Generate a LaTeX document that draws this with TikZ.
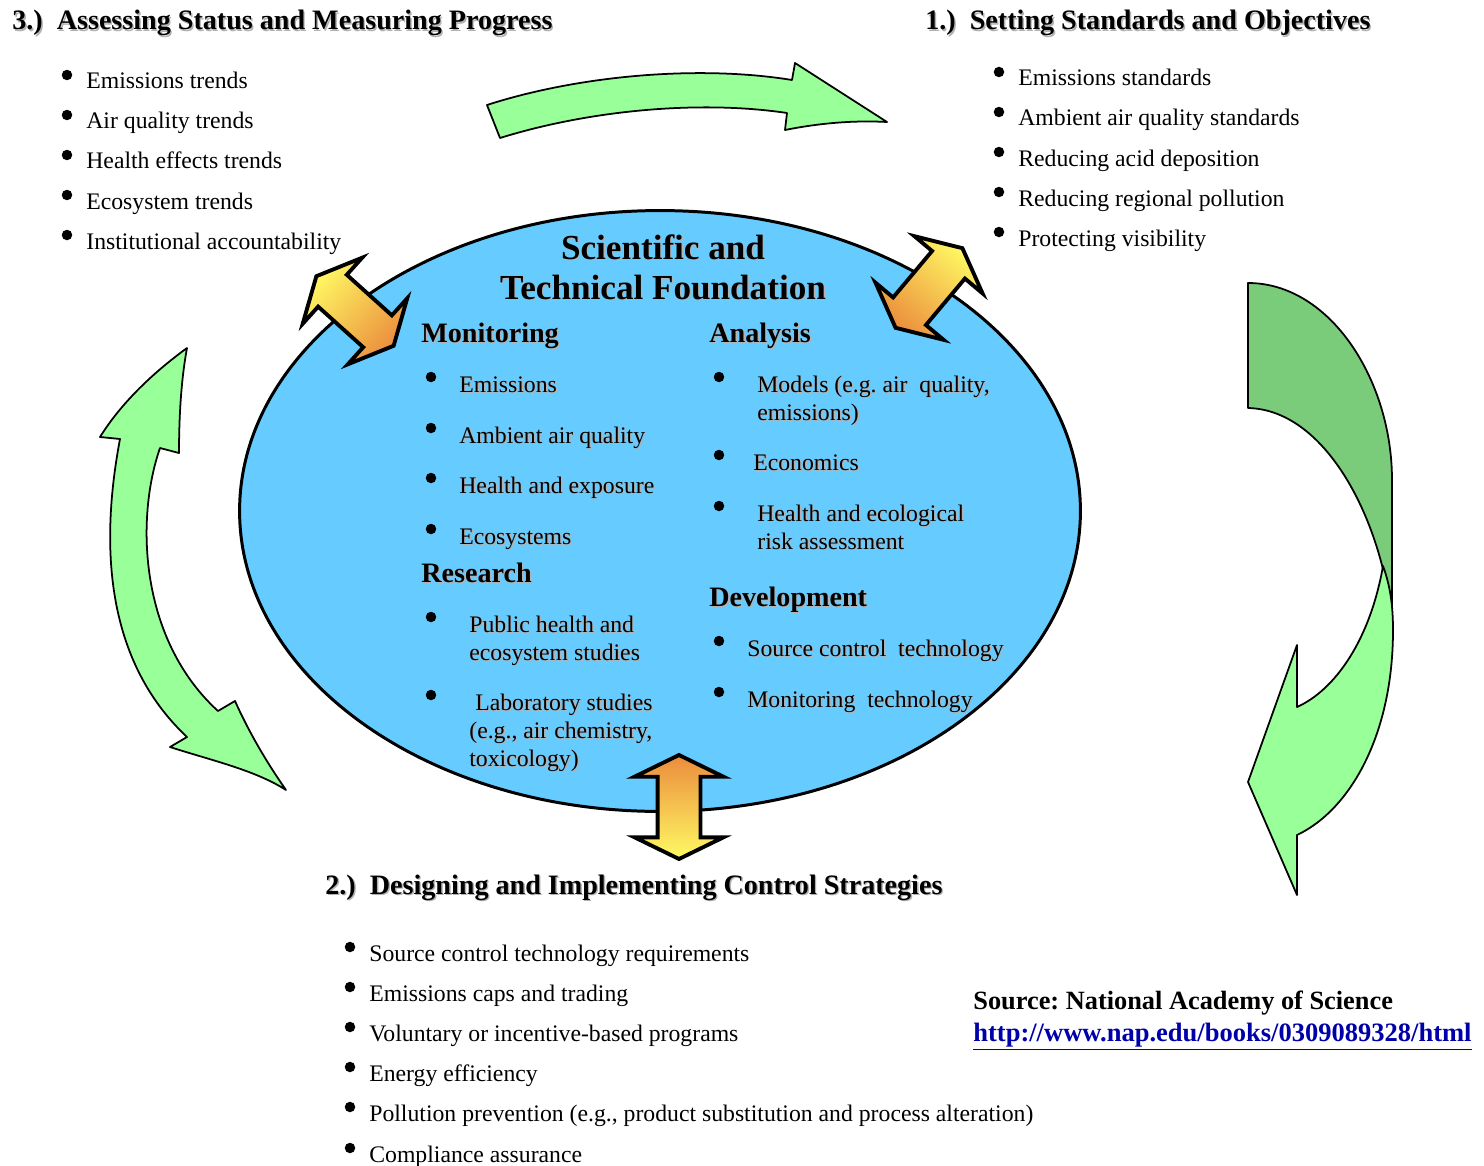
\documentclass[tikz,border=0pt]{standalone}
\usepackage{fontspec}
\setmainfont{Liberation Serif}
\usetikzlibrary{shapes.arrows}
\frenchspacing

\definecolor{skyfill}{RGB}{102,204,255}
\definecolor{leafgreen}{RGB}{153,255,153}
\definecolor{darkleaf}{RGB}{122,204,122}
\definecolor{arrowyellow}{RGB}{255,250,100}
\definecolor{arroworange}{RGB}{235,140,60}
\definecolor{linkblue}{RGB}{0,0,170}

\newcommand{\shd}[1]{\leavevmode\rlap{\kern0.8pt\raisebox{-0.8pt}{\textcolor{black!30}{#1}}}#1}
\newcommand{\mlines}[1]{\begin{tabular}[t]{@{}l@{}}#1\end{tabular}}

\begin{document}
\begin{tikzpicture}[x=0.02cm,y=-0.02cm,
    txt/.style={anchor=base west,inner sep=0pt,font=\fontsize{13.5}{16}\selectfont},
    head/.style={anchor=base west,inner sep=0pt,font=\fontsize{16}{19}\selectfont\bfseries},
    title/.style={anchor=base,inner sep=0pt,font=\fontsize{20}{24}\selectfont\bfseries},
    dot/.style={circle,fill=black,inner sep=0pt,minimum size=0.21cm},
    flow/.style={draw=black,line width=1pt,fill=leafgreen,line join=round},
    link/.style={double arrow,draw=black,line width=2.2pt,inner xsep=0pt,inner ysep=0.39cm,outer sep=0pt,
                 minimum height=2.08cm,double arrow head extend=0.46cm,double arrow tip angle=128,
                 top color=arrowyellow,bottom color=arroworange}]
  \useasboundingbox (0,0) rectangle (1484,1166);

  % green arrows of the cycle
  \draw[flow] (487,105) .. controls (580,75) and (700,65) .. (792,80) -- (795,63) -- (887,122)
    .. controls (850,120) and (815,124) .. (785,130) -- (787,113)
    .. controls (700,100) and (590,110) .. (500,138) -- cycle;
  \draw[flow] (187,348) .. controls (150,375) and (120,405) .. (100,437) -- (120,439)
    .. controls (100,545) and (105,660) .. (187,737) -- (170,747)
    .. controls (210,760) and (255,770) .. (286,790)
    .. controls (265,760) and (248,730) .. (235,701) -- (218,711)
    .. controls (140,640) and (135,520) .. (160,448) -- (179,453)
    .. controls (179,410) and (182,375) .. (187,348) -- cycle;
  \draw[flow,fill=darkleaf] (1248,283) .. controls (1330,283) and (1392,380) .. (1392,480) -- (1392,625)
    .. controls (1385,530) and (1330,410) .. (1248,408) -- cycle;
  \draw[flow] (1383,566) .. controls (1390,585) and (1393,605) .. (1393,630)
    .. controls (1393,735) and (1350,810) .. (1297,835) -- (1297,895) -- (1248,782) -- (1297,645) -- (1297,707)
    .. controls (1335,690) and (1370,640) .. (1383,566) -- cycle;

  % foundation
  \draw[line width=1.7pt,fill=skyfill] (660,511) ellipse [x radius=8.41cm,y radius=6.01cm];

  \node[link,rotate=138,shading angle=48] (linkstatus) at (355,311) {};
  \node[link,rotate=50,shading angle=-40] (linkstandard) at (929,288) {};
  \node[link,rotate=90,top color=arroworange,bottom color=arrowyellow] (linkcontrol) at (679,807) {};

  \node[title] (title1) at (663,259) {\shd{Scientific and}};
  \node[title] (title2) at (663,299) {\shd{Technical Foundation}};

  \node[head] (monitoring) at (421,342) {\shd{Monitoring}};
  \node[dot] (mondot1) at (431,377) {};
  \node[txt] (mon1) at (459,392) {\shd{Emissions}};
  \node[dot] (mondot2) at (431,428) {};
  \node[txt] (mon2) at (459,443) {\shd{Ambient air quality}};
  \node[dot] (mondot3) at (431,478) {};
  \node[txt] (mon3) at (459,493) {\shd{Health and exposure}};
  \node[dot] (mondot4) at (431,529) {};
  \node[txt] (mon4) at (459,544) {\shd{Ecosystems}};

  \node[head] (research) at (421,582) {\shd{Research}};
  \node[dot] (resdot1) at (431,617) {};
  \node[txt] (res1) at (469,632) {\mlines{\shd{Public health and}\\\shd{ecosystem studies}}};
  \node[dot] (resdot2) at (431,695) {};
  \node[txt] (res2) at (469,710) {\mlines{\shd{\hspace*{3.4pt}Laboratory studies}\\\shd{(e.g., air chemistry,}\\\shd{toxicology)}}};

  \node[head] (analysis) at (709,342) {\shd{Analysis}};
  \node[dot] (anadot1) at (719,377) {};
  \node[txt] (ana1) at (757,392) {\mlines{\shd{Models (e.g. air~ quality,}\\\shd{emissions)}}};
  \node[dot] (anadot2) at (719,455) {};
  \node[txt] (ana2) at (753,470) {\shd{Economics}};
  \node[dot] (anadot3) at (719,506) {};
  \node[txt] (ana3) at (757,521) {\mlines{\shd{Health and ecological}\\\shd{risk assessment}}};

  \node[head] (development) at (709,606) {\shd{Development}};
  \node[dot] (devdot1) at (719,641) {};
  \node[txt] (dev1) at (747,656) {\shd{Source control~ technology}};
  \node[dot] (devdot2) at (719,692) {};
  \node[txt] (dev2) at (747,707) {\shd{Monitoring~ technology}};

  % 3.) status
  \node[head] (status) at (12,30) {\shd{3.)\hspace{0.5em}Assessing Status and Measuring Progress}};
  \node[dot] (statdot1) at (67,75) {};
  \node[txt] (stat1) at (86,89) {Emissions trends};
  \node[dot] (statdot2) at (67,115) {};
  \node[txt] (stat2) at (86,129) {Air quality trends};
  \node[dot] (statdot3) at (67,155) {};
  \node[txt] (stat3) at (86,169) {Health effects trends};
  \node[dot] (statdot4) at (67,195) {};
  \node[txt] (stat4) at (86,209) {Ecosystem trends};
  \node[dot] (statdot5) at (67,235) {};
  \node[txt] (stat5) at (86,249) {Institutional accountability};

  % 1.) standards
  \node[head] (standards) at (925,30) {\shd{1.)\hspace{0.5em}Setting Standards and Objectives}};
  \node[dot] (stddot1) at (999,72) {};
  \node[txt] (std1) at (1018,86) {Emissions standards};
  \node[dot] (stddot2) at (999,112) {};
  \node[txt] (std2) at (1018,126) {Ambient air quality standards};
  \node[dot] (stddot3) at (999,152) {};
  \node[txt] (std3) at (1018,166) {Reducing acid deposition};
  \node[dot] (stddot4) at (999,192) {};
  \node[txt] (std4) at (1018,206) {Reducing regional pollution};
  \node[dot] (stddot5) at (999,232) {};
  \node[txt] (std5) at (1018,246) {Protecting visibility};

  % 2.) control strategies
  \node[head] (control) at (325,894) {\shd{2.)\hspace{0.5em}Designing and Implementing Control Strategies}};
  \node[dot] (ctldot1) at (350,947) {};
  \node[txt] (ctl1) at (369,961) {Source control technology requirements};
  \node[dot] (ctldot2) at (350,987) {};
  \node[txt] (ctl2) at (369,1001) {Emissions caps and trading};
  \node[dot] (ctldot3) at (350,1027) {};
  \node[txt] (ctl3) at (369,1041) {Voluntary or incentive-based programs};
  \node[dot] (ctldot4) at (350,1067) {};
  \node[txt] (ctl4) at (369,1081) {Energy efficiency};
  \node[dot] (ctldot5) at (350,1107) {};
  \node[txt] (ctl5) at (369,1121) {Pollution prevention (e.g., product substitution and process alteration)};
  \node[dot] (ctldot6) at (350,1148) {};
  \node[txt] (ctl6) at (369,1162) {Compliance assurance};

  \node[anchor=base west,inner sep=0pt,font=\fontsize{15}{18}\selectfont\bfseries] (source) at (973,1009) {Source: National Academy of Science};
  \node[anchor=base west,inner sep=0pt,font=\fontsize{15.1}{18}\selectfont\bfseries,text=linkblue] (url) at (973,1041) {\underline{http://www.nap.edu/books/0309089328/html}};
\end{tikzpicture}
\end{document}
